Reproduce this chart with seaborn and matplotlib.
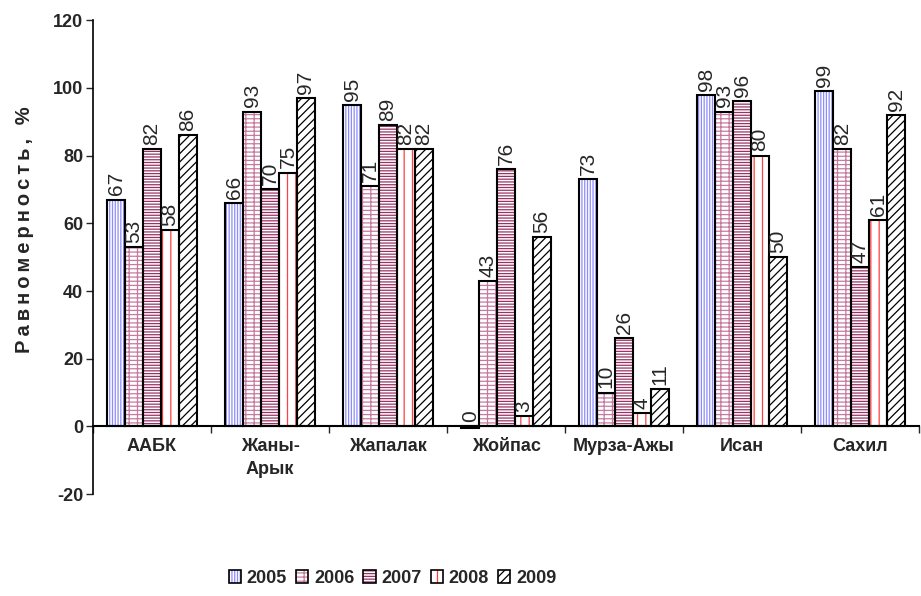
import matplotlib
matplotlib.use("Agg")
import matplotlib.pyplot as plt
from matplotlib.patches import Rectangle, Patch
import pandas as pd
import seaborn as sns

sns.set_theme(style="white")
plt.rcParams['font.family'] = ['Liberation Sans Narrow', 'Liberation Sans', 'DejaVu Sans']
plt.rcParams['hatch.linewidth'] = 0.9
plt.rcParams['axes.unicode_minus'] = False

# data
sites = ["ААБК", "Жаны-\nАрык", "Жапалак", "Жойпас", "Мурза-Ажы", "Исан", "Сахил"]
years = ["2005", "2006", "2007", "2008", "2009"]
v2005 = [67, 66, 95, -0.5, 73, 98, 99]
v2006 = [53, 93, 71, 43, 10, 93, 82]
v2007 = [82, 70, 89, 76, 26, 96, 47]
v2008 = [58, 75, 82, 3, 4, 80, 61]
v2009 = [86, 97, 82, 56, 11, 50, 92]

hatch_colors = ["#8c8cff", "#c77a9f", "#993366", "#ff4040", "#000000"]
hatches = ["||||||", "----||", "------", "||", "////"]

rows = []
for year, vals in zip(years, [v2005, v2006, v2007, v2008, v2009]):
    for site, v in zip(sites, vals):
        rows.append({"site": site, "year": year, "value": v})
df = pd.DataFrame(rows)

fig = plt.figure(figsize=(9.21, 5.96), dpi=100)
ax = fig.add_axes([0.101, 0.171, 0.897, 0.795])

sns.barplot(data=df, x="site", y="value", hue="year", order=sites, hue_order=years,
            palette={y: "white" for y in years}, width=0.76, legend=False, ax=ax)

for i, cont in enumerate(ax.containers):
    for p in cont.patches:
        p.set_hatch(hatches[i])
        p.set_edgecolor(hatch_colors[i])
        p.set_linewidth(0)
        ax.add_patch(Rectangle(p.get_xy(), p.get_width(), p.get_height(), fill=False,
                               edgecolor="black", linewidth=1.5, zorder=3))
    labels = [f"{abs(round(p.get_height()))}" for p in cont.patches]
    anns = ax.bar_label(cont, labels=labels, rotation=90, padding=3, fontsize=15)
    # the reference puts the "0" label above the axis even for the tiny negative bar
    for p, a in zip(cont.patches, anns):
        if p.get_height() < 0:
            a.xy = (p.get_x() + p.get_width() / 2, 0)
            a.xyann = (0, 3)
            a.set_verticalalignment("bottom")

# axes styling
ax.set_ylim(-20, 120)
ax.set_xlim(-0.5, len(sites) - 0.5)
ax.set_yticks(range(-20, 121, 20))
ax.tick_params(axis="y", direction="out", length=5, width=1, left=True, labelsize=13, pad=2)
for lab in ax.get_yticklabels():
    lab.set_fontweight("bold")

ax.spines["top"].set_visible(False)
ax.spines["right"].set_visible(False)
ax.spines["left"].set_linewidth(1.2)
ax.spines["left"].set_color("black")
ax.spines["bottom"].set_position(("data", 0))
ax.spines["bottom"].set_linewidth(1.5)
ax.spines["bottom"].set_color("black")

ax.set_xticks([i - 0.5 for i in range(len(sites) + 1)])
ax.set_xticklabels([])
ax.set_xticks(range(len(sites)), minor=True)
ax.set_xticklabels(sites, minor=True, fontsize=13, fontweight="bold", linespacing=1.5)
ax.tick_params(axis="x", which="major", direction="out", length=5, width=1, bottom=True)
ax.tick_params(axis="x", which="minor", length=0, pad=8)

ax.set_xlabel("")
ax.set_ylabel("\u2009".join("Равномерность, %"), fontsize=14.5, fontweight="bold")
ax.yaxis.set_label_coords(-0.072, 0.557)

handles = [(Patch(facecolor="white", edgecolor=hatch_colors[i], hatch=hatches[i], linewidth=0),
            Patch(fill=False, edgecolor="black", linewidth=1.2)) for i in range(len(years))]
fig.legend(handles, years, loc="center", bbox_to_anchor=(0.426, 0.03), ncol=5, frameon=False,
           handlelength=0.7, handleheight=0.7, handletextpad=0.3, columnspacing=0.5,
           prop={"weight": "bold", "size": 13})

fig.savefig("out.png", dpi=100)
